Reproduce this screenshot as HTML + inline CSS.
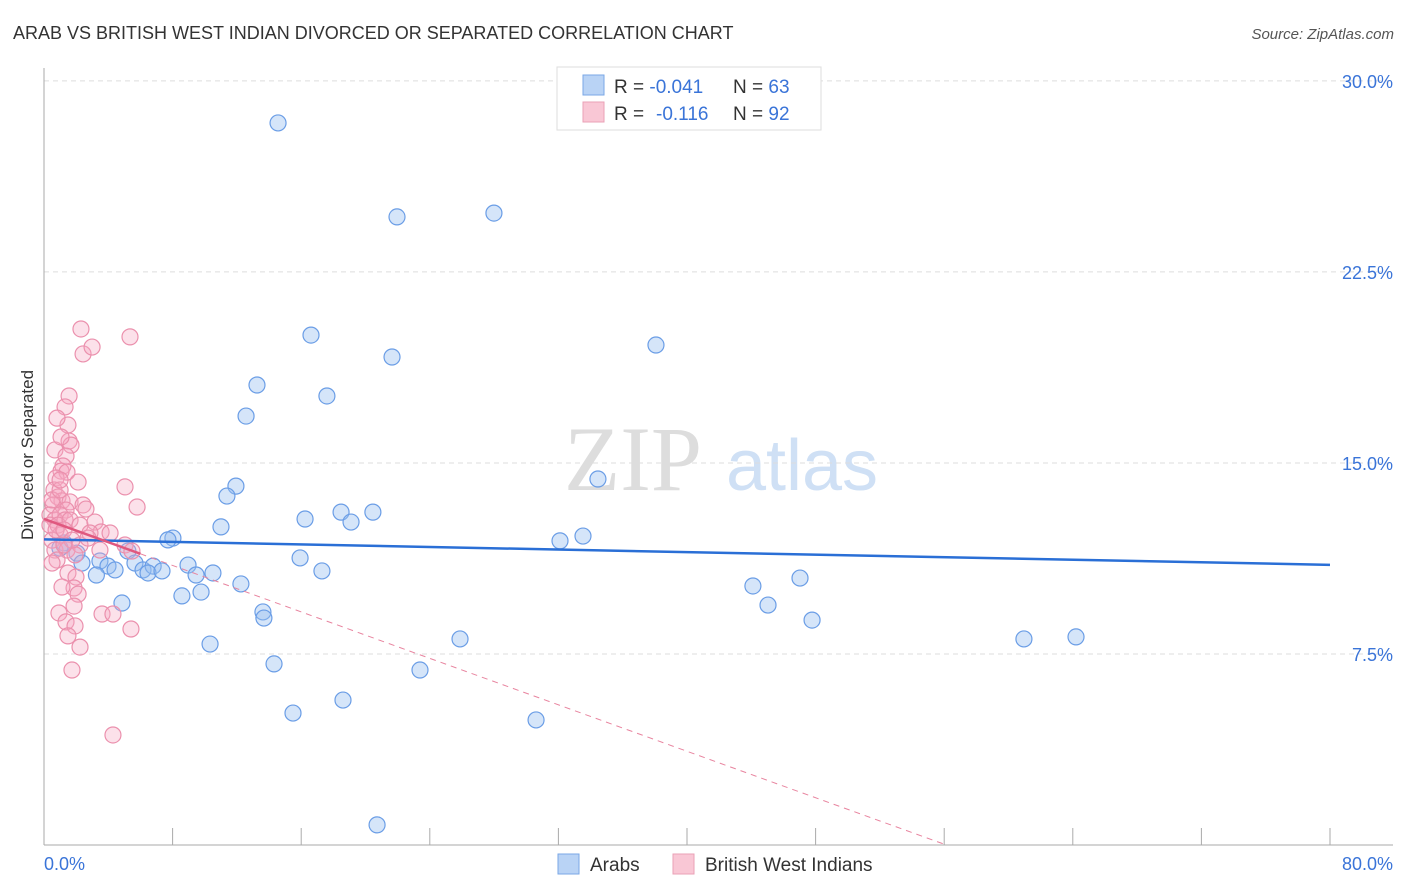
<!DOCTYPE html>
<html><head><meta charset="utf-8"><style>
body{margin:0;background:#fff;font-family:"Liberation Sans",sans-serif;}
svg{display:block}
</style></head><body>
<svg id="chart" width="1406" height="892">
<text x="13" y="39" font-size="18" fill="#333">ARAB VS BRITISH WEST INDIAN DIVORCED OR SEPARATED CORRELATION CHART</text>
<text x="1394" y="39" font-size="15" fill="#555" font-style="italic" text-anchor="end">Source: ZipAtlas.com</text>
<text x="0" y="0" transform="translate(33,455) rotate(-90)" font-size="17" fill="#333" text-anchor="middle">Divorced or Separated</text>
<g>
<text x="633" y="490" font-size="92" font-family="Liberation Serif,serif" fill="#ddd" text-anchor="middle">ZIP</text>
<text x="802" y="490" font-size="72" fill="#cfe0f5" text-anchor="middle">atlas</text>
</g>
<g id="grid"></g><g id="axes"></g><g id="marks"></g>
<g>
<rect x="557" y="67" width="264" height="63" fill="#fff" stroke="#ddd"/>
<rect x="583" y="75" width="21" height="20" fill="#b9d3f5" stroke="#7aa7e6"/>
<rect x="583" y="102" width="21" height="20" fill="#f9c7d5" stroke="#eaa0b6"/>
<text x="614" y="93" font-size="19" fill="#333">R = <tspan fill="#3a74d8">-0.041</tspan><tspan x="733">N = </tspan><tspan fill="#3a74d8">63</tspan></text>
<text x="614" y="120" font-size="19" fill="#333">R = <tspan x="656" fill="#3a74d8">-0.116</tspan><tspan x="733">N = </tspan><tspan fill="#3a74d8">92</tspan></text>
</g>
<g>
<rect x="558" y="854" width="21" height="20" fill="#b9d3f5" stroke="#7aa7e6"/>
<text x="590" y="871" font-size="19" fill="#333">Arabs</text>
<rect x="673" y="854" width="21" height="20" fill="#f9c7d5" stroke="#eaa0b6"/>
<text x="705" y="871" font-size="19" fill="#333">British West Indians</text>
</g>
</svg>
<script>
const yTicks=[7.5,15,22.5,30];
const yTickLabels=["7.5%","15.0%","22.5%","30.0%"];
const xTickCount=10;
const xTickLabels=["0.0%","80.0%"];
const arabX=[14.56,21.96,27.99,16.61,21.65,38.07,13.25,17.6,12.57,34.46,11.94,11.38,18.48,20.46,16.24,19.1,11.01,33.53,32.1,8.02,7.71,5.22,1.24,0.99,2.05,2.36,3.48,3.98,4.42,3.26,5.66,6.16,6.79,6.47,7.34,8.96,9.46,10.51,15.93,17.29,12.25,9.77,8.58,4.85,13.62,13.68,44.1,47.03,45.04,47.78,25.88,60.96,64.2,10.33,14.31,23.39,15.49,18.6,30.61,20.72];
const arabY=[28.35,24.66,24.81,20.02,19.16,19.63,18.06,17.63,16.84,14.37,14.09,13.7,13.07,13.07,12.8,12.68,12.49,12.13,11.94,12.05,11.98,11.54,11.86,11.66,11.46,11.07,11.15,10.95,10.8,10.6,11.07,10.8,10.95,10.68,10.76,10.99,10.6,10.68,11.27,10.76,10.25,9.93,9.78,9.5,9.15,8.91,10.17,10.48,9.42,8.83,8.09,8.09,8.17,7.89,7.11,6.87,5.18,5.69,4.91,0.79];
const bwiX=[2.3,5.35,2.43,2.99,1.56,1.31,1.49,0.81,1.56,1.68,0.68,1.06,1.37,1.18,1.06,1.43,2.12,0.75,5.04,5.79,0.62,0.87,1.12,1.62,2.43,2.61,1.37,0.56,0.37,0.68,1.0,1.31,0.37,0.87,1.62,2.24,3.17,3.55,2.86,4.11,5.04,5.47,1.0,0.5,0.68,1.43,2.24,1.93,0.81,0.5,1.49,1.99,1.87,1.12,2.12,1.87,0.93,1.37,1.93,1.49,2.24,1.74,3.61,4.29,5.41,4.29,0.5,1.0,0.75,1.24,1.74,2.74,3.48,1.24,1.0];
const bwiY=[20.26,19.95,19.28,19.55,17.63,17.2,16.49,16.76,15.86,15.7,15.51,16.02,15.27,14.88,14.68,14.64,14.25,14.41,14.06,13.27,13.94,13.66,13.51,13.47,13.35,13.19,13.15,13.35,12.96,12.76,12.96,12.76,12.56,12.56,12.76,12.56,12.68,12.29,12.25,12.25,11.78,11.54,12.17,11.97,11.58,11.58,11.78,11.39,11.19,11.07,10.68,10.52,10.09,10.13,9.85,9.38,9.11,8.76,8.6,8.21,7.77,6.87,9.07,9.07,8.48,4.32,13.55,13.94,12.37,12.37,11.97,12.05,11.58,11.78,14.33];
const arabTrend=[12.0,11.0];
const bwiTrend=[12.8,-0.228];
const X0=44,X1=1330,XMAX=80,Y0=845,YPER=25.47;
const sx=v=>X0+(X1-X0)*v/XMAX, sy=v=>Y0-YPER*v;
const NS="http://www.w3.org/2000/svg";
function mk(parent,tag,attrs){const e=document.createElementNS(NS,tag);for(const k in attrs)e.setAttribute(k,attrs[k]);parent.appendChild(e);return e;}
const grid=document.getElementById('grid'),axes=document.getElementById('axes'),marks=document.getElementById('marks');
yTicks.forEach((t,i)=>{
 const l=mk(grid,'line',{x1:44,x2:1393,y1:sy(t),y2:sy(t),stroke:'#ddd','stroke-dasharray':'5,4'});
 
 
 const tx=mk(axes,'text',{x:1393,y:sy(t)+7,'font-size':18,fill:'#3a74d8','text-anchor':'end'});
 tx.textContent=yTickLabels[i];
 
 
});
let a=mk(axes,'line',{x1:44,x2:44,y1:68,y2:845,stroke:'#aaa'});


a=mk(axes,'line',{x1:44,x2:1393,y1:845,y2:845,stroke:'#aaa'});


for(let i=1;i<=xTickCount;i++){
 const x=sx(XMAX*i/xTickCount);
 const t=mk(axes,'line',{x1:x,x2:x,y1:828,y2:845,stroke:'#aaa'});
 
 
}
let xl=mk(axes,'text',{x:44,y:870,'font-size':18,fill:'#3a74d8'});xl.textContent=xTickLabels[0];


xl=mk(axes,'text',{x:1393,y:870,'font-size':18,fill:'#3a74d8','text-anchor':'end'});xl.textContent=xTickLabels[1];


arabX.forEach((v,i)=>{
 const c=mk(marks,'circle',{cx:sx(v),cy:sy(arabY[i]),r:8,fill:'rgba(150,190,240,0.4)',stroke:'#6a9de6','stroke-width':1.2});
 
 
});
bwiX.forEach((v,i)=>{
 const c=mk(marks,'circle',{cx:sx(v),cy:sy(bwiY[i]),r:8,fill:'rgba(245,170,195,0.35)',stroke:'#eb90ad','stroke-width':1.2});
 
 
});
let ln=mk(marks,'line',{x1:sx(0),y1:sy(arabTrend[0]),x2:sx(XMAX),y2:sy(arabTrend[1]),stroke:'#2a6fd6','stroke-width':2.5});


const xEnd=-bwiTrend[0]/bwiTrend[1];
ln=mk(marks,'line',{x1:sx(6),y1:sy(bwiTrend[0]+bwiTrend[1]*6),x2:sx(xEnd),y2:sy(0),stroke:'#e8849f','stroke-width':1,'stroke-dasharray':'6,5'});


ln=mk(marks,'line',{x1:sx(0),y1:sy(bwiTrend[0]),x2:sx(6),y2:sy(bwiTrend[0]+bwiTrend[1]*6),stroke:'#e0587f','stroke-width':2.5});


</script>
</body></html>
